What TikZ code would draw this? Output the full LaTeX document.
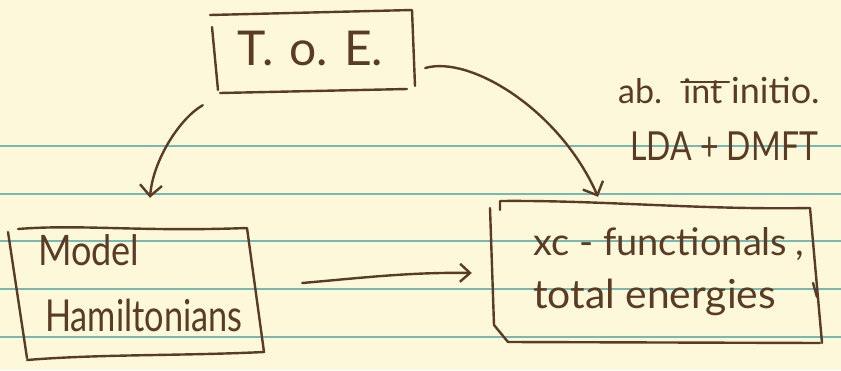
\documentclass[tikz,border=0pt]{standalone}
\usepackage{fontspec}
\setmainfont{Lato}
\usetikzlibrary{arrows.meta}
\definecolor{paper}{HTML}{FCF8D9}
\definecolor{rulecol}{HTML}{78B8B4}
\definecolor{inkcol}{HTML}{5A3B24}
\begin{document}
\begin{tikzpicture}[x=1pt,y=-1pt,
  pen/.style={draw=inkcol, line width=2.4pt, line cap=round, line join=round},
  hand/.style={text=inkcol, inner sep=0pt, anchor=base west},
  area/.style={draw=none, inner sep=0pt, rectangle},
  barb/.style={-{Straight Barb[length=11pt,width=22pt]}}
]
% paper
\fill[paper] (0,0) rectangle (841,370);
\useasboundingbox (0,0) rectangle (841,370);
\foreach \yy in {146,194,241,289,337}
  \draw[rulecol, line width=1.3pt] (0,\yy) -- (841,\yy);

% box areas
\node[area, minimum width=204pt, minimum height=80pt] (toe) at (314,51) {};
\node[area, minimum width=243pt, minimum height=127pt] (model) at (134.5,292.5) {};
\node[area, minimum width=324pt, minimum height=138pt] (xc) at (654,273) {};

% box outlines (hand drawn)
\draw[pen] (210,15) -- (412,10) -- (415,86);
\draw[pen] (212,27) -- (218,90);
\draw[pen] (220,93) -- (407,89);

\draw[pen] (8,232) -- (27,358);
\draw[pen] (18,229) .. controls (80,224) and (140,232) .. (247,228) -- (264,352)
  .. controls (180,356) and (100,354) .. (27,360);

\draw[pen] (500,210) -- (500,201) .. controls (600,200) and (700,210) .. (810,208) -- (822,343);
\draw[pen] (490,208) -- (494,325) -- (508,342) -- (820,343);
\draw[pen] (813,283) -- (817,297);

% texts
\node[hand, font=\fontsize{48}{48}\selectfont] (toet) at (237,65) {T.\,\,o.\,\,E.};
\node[hand, font=\fontsize{42}{42}\selectfont] (modt) at (38,265) {\scalebox{0.86}[1]{Model}};
\node[hand, font=\fontsize{44}{44}\selectfont] (hamt) at (45,331) {\scalebox{0.78}[1]{Hamiltonians}};
\node[hand, font=\fontsize{38}{38}\selectfont] (xct) at (533,255) {xc - functionals};
\node[hand, font=\fontsize{38}{38}\selectfont] (xcc) at (795,255) {,};
\node[hand, font=\fontsize{40}{40}\selectfont] (tot) at (533,308) {\scalebox{1.02}[1]{total energies}};
\node[hand, font=\fontsize{34}{34}\selectfont] (abt) at (618,103) {ab.};
\node[hand, font=\fontsize{34}{34}\selectfont] (intt) at (683,103) {int};
\node[hand, font=\fontsize{36}{36}\selectfont] (init) at (731,103) {initio.};
\draw[pen, line width=2pt] (intt.north west) ++(-2,4) -- ++(48,0);
\node[hand, font=\fontsize{40}{40}\selectfont] (ldat) at (630,160) {\scalebox{0.8}[1]{LDA + DMFT}};

% connectors
\draw[pen, barb] ([xshift=-9pt,yshift=-14pt]toe.south west)
  .. controls (180,118) and (153,160) .. ([xshift=15.5pt,yshift=31pt]model.north);
\draw[pen, barb] ([xshift=9pt,yshift=-17pt]toe.east)
  .. controls (470,55) and (560,110) .. ([xshift=-56pt,yshift=7pt]xc.north);
\draw[pen, -{Straight Barb[length=10pt,width=18pt]}] ([xshift=46pt,yshift=9.5pt]model.east)
  .. controls (360,278) and (410,272) .. ([xshift=-20pt]xc.west);
\end{tikzpicture}
\end{document}
